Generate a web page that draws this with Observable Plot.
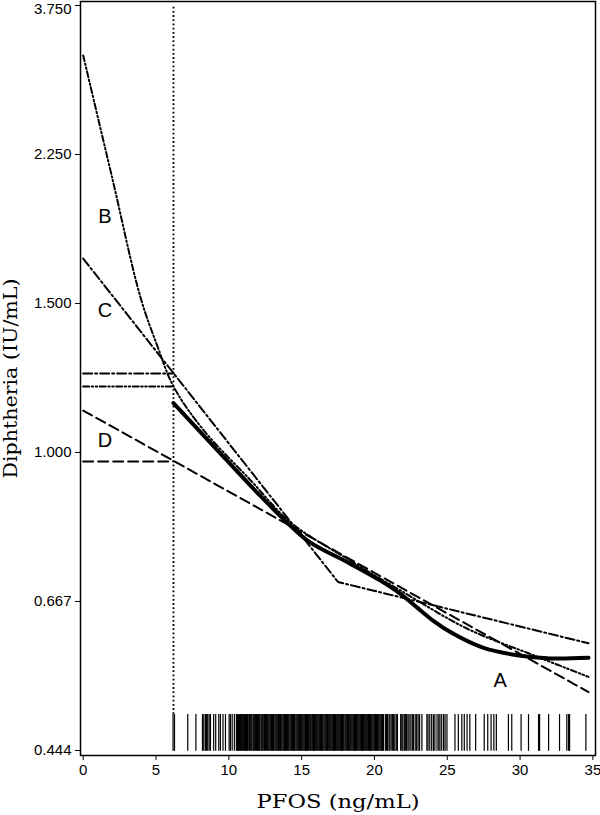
<!DOCTYPE html>
<html><head><meta charset="utf-8">
<script src="https://cdn.jsdelivr.net/npm/d3@7"></script>
<script src="https://cdn.jsdelivr.net/npm/@observablehq/plot@0.6"></script>
<style>body{margin:0;background:#fff}</style>
</head><body><div id="chart"></div>
<script>
// ---- axis ticks ----
const xTicks = [0, 5, 10, 15, 20, 25, 30, 35];
const yTickValues = [0.4444, 0.6667, 1, 1.5, 2.25, 3.375];
const yTickLabels = ["0.444", "0.667", "1.000", "1.500", "2.250", "3.750"];

// ---- model A (spline, solid) ----
const aX = [6.2, 8.92, 12.15, 14.21, 15.58, 18.33, 20.38, 21.76, 22.92, 24.02, 25.39, 27.45, 29.79, 32.05, 34.7];
const aY = [1.144, 1.019, 0.889, 0.820, 0.783, 0.739, 0.706, 0.681, 0.656, 0.633, 0.611, 0.588, 0.576, 0.571, 0.572];

// ---- model B (dash-dot-dot) ----
const bX = [0, 1.97, 3.93, 5.08, 6.2, 8.28, 11.5, 14.23, 18.35, 21.78, 26.38, 30.91, 34.7];
const bY = [2.946, 2.119, 1.526, 1.338, 1.197, 1.062, 0.927, 0.827, 0.745, 0.687, 0.619, 0.576, 0.543];

// ---- model C (dash-dot, piecewise linear) ----
const cX = [0, 17.5, 34.7];
const cY = [1.695, 0.703, 0.595];

// ---- model D (dashed) ----
const dX = [0, 34.7];
const dY = [1.121, 0.521];

// ---- flat extrapolations below lowest exposure ----
const flatX = [0, 6.2];
const flatB = 1.197, flatC = 1.240, flatD = 0.976;
const minExposure = 6.2;

// ---- curve labels ----
const labelText = ["A", "B", "C", "D"];
const labelX = [28.64, 1.5, 1.5, 1.5];
const labelY = [0.538, 1.901, 1.472, 1.033];

// ---- axis titles ----
const xTitle = "PFOS (ng/mL)";
const yTitle = "Diphtheria (IU/mL)";

// ---- rug of observed PFOS exposures ----
const rugX = [6.17, 6.27, 7.18, 7.74, 8.19, 8.28, 8.39, 8.46, 8.55, 8.65, 8.74, 8.96, 9.10, 9.31, 9.42, 9.60, 9.77,
 10.02, 10.11, 10.23, 10.38, 10.52, 10.60, 10.66, 10.74, 10.81, 10.86, 10.95, 11.02, 11.07, 11.15, 11.21, 11.28,
 11.33, 11.41, 11.47, 11.52, 11.58, 11.66, 11.71, 11.78, 11.84, 11.90, 11.97, 12.03, 12.09, 12.14, 12.22, 12.27,
 12.33, 12.40, 12.46, 12.51, 12.58, 12.64, 12.70, 12.75, 12.82, 12.88, 12.94, 13.00, 13.06, 13.11, 13.18, 13.24,
 13.30, 13.36, 13.42, 13.47, 13.54, 13.60, 13.65, 13.72, 13.78, 13.83, 13.90, 13.96, 14.02, 14.08, 14.13, 14.20,
 14.26, 14.32, 14.38, 14.44, 14.50, 14.55, 14.62, 14.68, 14.74, 14.80, 14.86, 14.91, 14.98, 15.04, 15.10, 15.16,
 15.22, 15.27, 15.34, 15.40, 15.46, 15.52, 15.58, 15.63, 15.70, 15.76, 15.82, 15.88, 15.94, 16.00, 16.06, 16.11,
 16.18, 16.24, 16.30, 16.36, 16.42, 16.47, 16.54, 16.60, 16.66, 16.72, 16.78, 16.83, 16.90, 16.96, 17.02, 17.08,
 17.14, 17.19, 17.26, 17.32, 17.38, 17.44, 17.50, 17.55, 17.62, 17.68, 17.74, 17.80, 17.86, 17.91, 17.98, 18.04,
 18.10, 18.16, 18.22, 18.27, 18.34, 18.40, 18.46, 18.52, 18.58, 18.63, 18.70, 18.76, 18.82, 18.88, 18.94, 19.00,
 19.06, 19.11, 19.18, 19.24, 19.30, 19.36, 19.42, 19.47, 19.54, 19.60, 19.66, 19.72, 19.78, 19.83, 19.90, 19.96,
 20.02, 20.08, 20.14, 20.20, 20.26, 20.31, 20.38, 20.44, 20.50, 20.56, 20.62, 20.75, 20.82, 20.90, 21.00, 21.06,
 21.15, 21.25, 21.32, 21.40, 21.50, 21.58, 21.80, 21.88, 21.95, 22.05, 22.12, 22.20, 22.30, 22.38, 22.50, 22.60,
 22.68, 22.80, 22.90, 23.00, 23.10, 23.26, 23.60, 23.68, 23.80, 23.93, 24.05, 24.15, 24.30, 24.42, 24.50, 24.62,
 24.75, 24.85, 24.98, 25.53, 25.76, 26.00, 26.17, 26.36, 26.55, 26.95, 27.54, 27.78, 28.01, 28.20, 28.37, 29.20,
 29.43, 30.07, 30.58, 31.27, 31.34, 31.96, 32.71, 33.21, 33.33, 33.40, 34.52];

const pts = (xs, ys) => xs.map((x, i) => ({x, y: ys[i]}));
const flatPts = (level) => flatX.map(x => ({x, y: level}));
const labelMap = new Map(yTickValues.map((v, i) => [v, yTickLabels[i]]));
const labels = labelText.map((t, i) => ({t, x: labelX[i], y: labelY[i]}));

const serif = "'DejaVu Serif', 'Liberation Serif', serif";
const sans = "'Liberation Sans', Arial, sans-serif";
const dashB = "6,2.5,1.5,2.5,1.5,2.5";
const dashC = "9,3,2,3";
const dashD = "10,5";

const chart = Plot.plot({
  width: 600,
  height: 815,
  marginLeft: 80,
  marginRight: 5,
  marginTop: 1,
  marginBottom: 60,
  style: {fontFamily: sans, fontSize: "15px", color: "#000", background: "#fff"},
  x: {domain: [-0.185, 35.18], ticks: xTicks, tickSize: 5, tickPadding: 4, label: null},
  y: {type: "log", domain: [0.4384, 3.412], ticks: yTickValues, tickFormat: d => labelMap.get(d),
      tickSize: 5, tickPadding: 4, label: null},
  marks: [
    Plot.ruleX(rugX, {y1: 0.4434, y2: 0.49, stroke: "#000", strokeWidth: 1.2}),
    Plot.ruleX([minExposure], {y1: 0.49, y2: 3.375, stroke: "#000", strokeWidth: 1.8, strokeDasharray: "1.8,2.4"}),
    Plot.line(flatPts(flatB), {x: "x", y: "y", stroke: "#000", strokeWidth: 2, strokeDasharray: dashB}),
    Plot.line(flatPts(flatC), {x: "x", y: "y", stroke: "#000", strokeWidth: 2, strokeDasharray: dashC}),
    Plot.line(flatPts(flatD), {x: "x", y: "y", stroke: "#000", strokeWidth: 2, strokeDasharray: dashD}),
    Plot.line(pts(dX, dY), {x: "x", y: "y", stroke: "#000", strokeWidth: 2, strokeDasharray: dashD}),
    Plot.line(pts(cX, cY), {x: "x", y: "y", stroke: "#000", strokeWidth: 2, strokeDasharray: dashC}),
    Plot.line(pts(bX, bY), {x: "x", y: "y", stroke: "#000", strokeWidth: 2, strokeDasharray: dashB, curve: "catmull-rom"}),
    Plot.line(pts(aX, aY), {x: "x", y: "y", stroke: "#000", strokeWidth: 4, curve: "catmull-rom"}),
    Plot.text(labels, {x: "x", y: "y", text: "t", fontFamily: sans, fontSize: 20, fill: "#000"}),
    Plot.text([xTitle], {frameAnchor: "bottom", textAnchor: "middle", lineAnchor: "middle", dy: 46,
      fontFamily: serif, fontSize: 19, fill: "#000"}),
    Plot.text([yTitle], {frameAnchor: "left", textAnchor: "middle", lineAnchor: "middle", dx: -70, rotate: -90,
      fontFamily: serif, fontSize: 19, fill: "#000"}),
    Plot.frame({stroke: "#000", strokeWidth: 1.5})
  ]
});

// stretch the wide serif axis titles and keep the top tick label inside the page
chart.querySelectorAll("text").forEach(t => {
  const s = t.textContent;
  if (s === xTitle) { t.setAttribute("textLength", 163); t.setAttribute("lengthAdjust", "spacingAndGlyphs"); }
  if (s === yTitle) { t.setAttribute("textLength", 200); t.setAttribute("lengthAdjust", "spacingAndGlyphs"); }
  if (s === "3.750") {
    const tr = t.getAttribute("transform") || "";
    t.setAttribute("transform", (tr + " translate(0,4)").trim());
  }
});
document.getElementById("chart").appendChild(chart);
</script>
</body></html>
